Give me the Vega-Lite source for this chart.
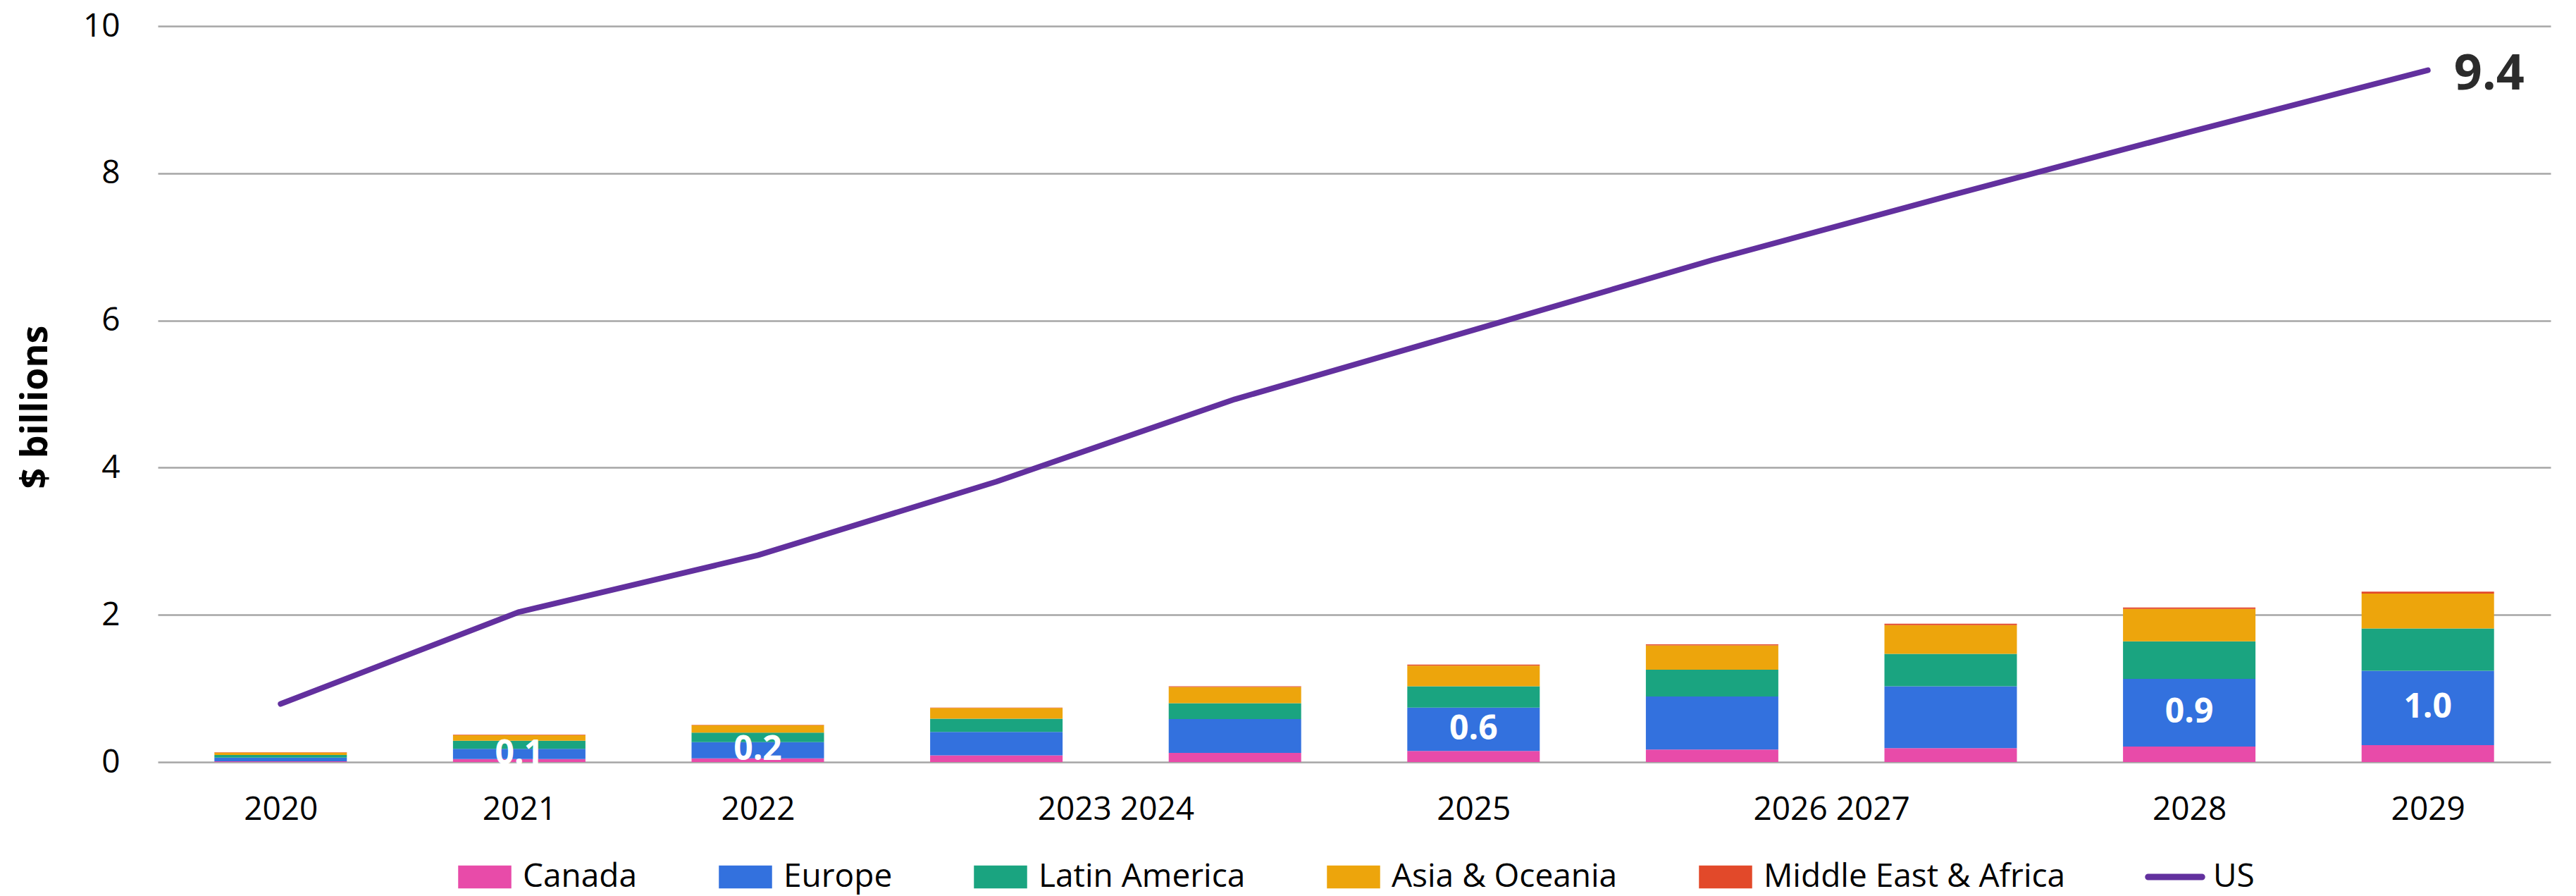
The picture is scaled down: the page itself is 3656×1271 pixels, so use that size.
{
  "$schema": "https://vega.github.io/schema/vega-lite/v6.json",
  "width": 3396,
  "height": 1044,
  "autosize": {"type": "none"},
  "padding": {"left": 224, "top": 37, "right": 36, "bottom": 190},
  "background": "white",
  "config": {"view": {"stroke": null}, "font": "Open Sans", "legend": {"layout": {"bottom": {"anchor": "middle"}}}},
  "datasets": {
    "bars": [
      {"year": 2020, "region": "Canada", "value": 0.01},
      {"year": 2020, "region": "Europe", "value": 0.05},
      {"year": 2020, "region": "Latin America", "value": 0.035},
      {"year": 2020, "region": "Asia & Oceania", "value": 0.035},
      {"year": 2020, "region": "Middle East & Africa", "value": 0.003},
      {"year": 2021, "region": "Canada", "value": 0.04},
      {"year": 2021, "region": "Europe", "value": 0.14},
      {"year": 2021, "region": "Latin America", "value": 0.11},
      {"year": 2021, "region": "Asia & Oceania", "value": 0.075},
      {"year": 2021, "region": "Middle East & Africa", "value": 0.005},
      {"year": 2022, "region": "Canada", "value": 0.05},
      {"year": 2022, "region": "Europe", "value": 0.22},
      {"year": 2022, "region": "Latin America", "value": 0.13},
      {"year": 2022, "region": "Asia & Oceania", "value": 0.1},
      {"year": 2022, "region": "Middle East & Africa", "value": 0.005},
      {"year": 2023, "region": "Canada", "value": 0.09},
      {"year": 2023, "region": "Europe", "value": 0.32},
      {"year": 2023, "region": "Latin America", "value": 0.18},
      {"year": 2023, "region": "Asia & Oceania", "value": 0.145},
      {"year": 2023, "region": "Middle East & Africa", "value": 0.006},
      {"year": 2024, "region": "Canada", "value": 0.125},
      {"year": 2024, "region": "Europe", "value": 0.46},
      {"year": 2024, "region": "Latin America", "value": 0.215},
      {"year": 2024, "region": "Asia & Oceania", "value": 0.22},
      {"year": 2024, "region": "Middle East & Africa", "value": 0.01},
      {"year": 2025, "region": "Canada", "value": 0.15},
      {"year": 2025, "region": "Europe", "value": 0.59},
      {"year": 2025, "region": "Latin America", "value": 0.29},
      {"year": 2025, "region": "Asia & Oceania", "value": 0.28},
      {"year": 2025, "region": "Middle East & Africa", "value": 0.015},
      {"year": 2026, "region": "Canada", "value": 0.17},
      {"year": 2026, "region": "Europe", "value": 0.72},
      {"year": 2026, "region": "Latin America", "value": 0.365},
      {"year": 2026, "region": "Asia & Oceania", "value": 0.33},
      {"year": 2026, "region": "Middle East & Africa", "value": 0.015},
      {"year": 2027, "region": "Canada", "value": 0.19},
      {"year": 2027, "region": "Europe", "value": 0.84},
      {"year": 2027, "region": "Latin America", "value": 0.44},
      {"year": 2027, "region": "Asia & Oceania", "value": 0.39},
      {"year": 2027, "region": "Middle East & Africa", "value": 0.02},
      {"year": 2028, "region": "Canada", "value": 0.21},
      {"year": 2028, "region": "Europe", "value": 0.92},
      {"year": 2028, "region": "Latin America", "value": 0.51},
      {"year": 2028, "region": "Asia & Oceania", "value": 0.44},
      {"year": 2028, "region": "Middle East & Africa", "value": 0.02},
      {"year": 2029, "region": "Canada", "value": 0.23},
      {"year": 2029, "region": "Europe", "value": 1.01},
      {"year": 2029, "region": "Latin America", "value": 0.575},
      {"year": 2029, "region": "Asia & Oceania", "value": 0.475},
      {"year": 2029, "region": "Middle East & Africa", "value": 0.025}
    ],
    "us": [
      {"year": 2020, "value": 0.79},
      {"year": 2021, "value": 2.04},
      {"year": 2022, "value": 2.81},
      {"year": 2023, "value": 3.81},
      {"year": 2024, "value": 4.93},
      {"year": 2025, "value": 5.87},
      {"year": 2026, "value": 6.82},
      {"year": 2027, "value": 7.7},
      {"year": 2028, "value": 8.56},
      {"year": 2029, "value": 9.4}
    ]
  },
  "layer": [
    {
      "data": {"name": "bars"},
      "transform": [
        {"window": [{"op": "row_number", "as": "rank"}], "groupby": ["year"]}
      ],
      "mark": {"type": "bar", "size": 188},
      "encoding": {
        "x": {
          "field": "year",
          "type": "quantitative",
          "scale": {"domain": [2019.5, 2029.5], "nice": false, "zero": false},
          "axis": {
            "title": null,
            "values": [2020, 2021, 2022, 2023.5, 2025, 2026.5, 2028, 2029],
            "labelExpr": "datum.value == 2023.5 ? '2023 2024' : datum.value == 2026.5 ? '2026 2027' : format(datum.value, 'd')",
            "grid": false,
            "ticks": false,
            "domain": false,
            "labelFont": "Open Sans",
            "labelFontSize": 46,
            "labelColor": "black",
            "labelPadding": 45,
            "labelLimit": 0,
            "labelFlush": false,
            "labelOverlap": false
          }
        },
        "y": {
          "field": "value",
          "type": "quantitative",
          "stack": "zero",
          "scale": {"domain": [0, 10], "nice": false},
          "axis": {
            "title": "$ billions",
            "values": [0, 2, 4, 6, 8, 10],
            "format": "d",
            "grid": true,
            "gridColor": "#A6A6A6",
            "gridWidth": 2.5,
            "domain": false,
            "ticks": false,
            "labelFont": "Open Sans",
            "labelFontSize": 46,
            "labelColor": "black",
            "labelPadding": 54,
            "titleFont": "Open Sans",
            "titleFontSize": 52,
            "titleFontWeight": "bold",
            "titleColor": "black",
            "titlePadding": 40,
            "titleY": 540
          }
        },
        "color": {
          "field": "region",
          "type": "nominal",
          "scale": {
            "domain": ["Canada", "Europe", "Latin America", "Asia & Oceania", "Middle East & Africa", "US"],
            "range": ["#E84BA9", "#3371DE", "#1AA480", "#EDA50C", "#E2492A", "#62309E"]
          },
          "legend": {
            "orient": "bottom",
            "direction": "horizontal",
            "title": null,
            "labelFont": "Open Sans",
            "labelFontSize": 46,
            "labelColor": "black",
            "labelLimit": 0,
            "labelOffset": 11,
            "columnPadding": 110,
            "symbolSize": 7056,
            "symbolType": {"expr": "datum.value === 'US' ? 'M-0.91,-0.09H0.91A0.09,0.09 0 0 1 0.91,0.09H-0.91A0.09,0.09 0 0 1 -0.91,-0.09Z' : 'M-0.881,-0.369H0.881V0.369H-0.881Z'"},
            "offset": 30
          }
        },
        "order": {"field": "rank", "type": "quantitative"}
      }
    },
    {
      "data": {"name": "us"},
      "mark": {"type": "line", "strokeWidth": 8, "strokeCap": "round", "strokeJoin": "round"},
      "encoding": {
        "x": {"field": "year", "type": "quantitative"},
        "y": {"field": "value", "type": "quantitative"},
        "color": {"datum": "US", "type": "nominal"}
      }
    },
    {
      "data": {"name": "us"},
      "transform": [{"filter": {"field": "year", "equal": 2029}}],
      "mark": {"type": "text", "align": "left", "baseline": "middle", "dx": 37, "dy": 6, "font": "Open Sans", "fontSize": 70, "fontWeight": "bold", "color": "#2B2B2B"},
      "encoding": {
        "x": {"field": "year", "type": "quantitative"},
        "y": {"field": "value", "type": "quantitative"},
        "text": {"field": "value", "format": ".1f"}
      }
    },
    {
      "data": {"name": "bars"},
      "transform": [
        {"filter": {"field": "region", "oneOf": ["Canada", "Europe"]}},
        {"stack": "value", "groupby": ["year"], "sort": [{"field": "region", "order": "ascending"}], "as": ["v0", "v1"]},
        {"filter": {"field": "region", "equal": "Europe"}},
        {"filter": {"field": "year", "oneOf": [2021, 2022, 2025, 2028, 2029]}},
        {"fold": ["v0", "v1"], "as": ["edge", "pos"]},
        {"aggregate": [{"op": "mean", "field": "pos", "as": "mid"}, {"op": "max", "field": "value", "as": "europe"}], "groupby": ["year"]}
      ],
      "mark": {"type": "text", "baseline": "middle", "font": "Open Sans", "fontSize": 48, "fontWeight": "bold", "color": "white"},
      "encoding": {
        "x": {"field": "year", "type": "quantitative"},
        "y": {"field": "mid", "type": "quantitative"},
        "text": {"field": "europe", "format": ".1f"}
      }
    },
    {
      "data": {"name": "bars"},
      "transform": [
        {"filter": {"field": "region", "oneOf": ["Canada", "Europe"]}},
        {"stack": "value", "groupby": ["year"], "sort": [{"field": "region", "order": "ascending"}], "as": ["v0", "v1"]},
        {"filter": {"field": "region", "equal": "Europe"}},
        {"filter": {"field": "year", "oneOf": [2023, 2024]}},
        {"fold": ["v0", "v1"], "as": ["edge", "pos"]},
        {"aggregate": [{"op": "mean", "field": "pos", "as": "mid"}, {"op": "mean", "field": "year", "as": "year"}]}
      ],
      "mark": {"type": "text", "baseline": "middle", "font": "Open Sans", "fontSize": 48, "fontWeight": "bold", "color": "white", "text": "0.3 0.5"},
      "encoding": {
        "x": {"field": "year", "type": "quantitative"},
        "y": {"field": "mid", "type": "quantitative"}
      }
    },
    {
      "data": {"name": "bars"},
      "transform": [
        {"filter": {"field": "region", "oneOf": ["Canada", "Europe"]}},
        {"stack": "value", "groupby": ["year"], "sort": [{"field": "region", "order": "ascending"}], "as": ["v0", "v1"]},
        {"filter": {"field": "region", "equal": "Europe"}},
        {"filter": {"field": "year", "oneOf": [2026, 2027]}},
        {"fold": ["v0", "v1"], "as": ["edge", "pos"]},
        {"aggregate": [{"op": "mean", "field": "pos", "as": "mid"}, {"op": "mean", "field": "year", "as": "year"}]}
      ],
      "mark": {"type": "text", "baseline": "middle", "font": "Open Sans", "fontSize": 48, "fontWeight": "bold", "color": "white", "text": "0.7 0.8"},
      "encoding": {
        "x": {"field": "year", "type": "quantitative"},
        "y": {"field": "mid", "type": "quantitative"}
      }
    }
  ]
}
